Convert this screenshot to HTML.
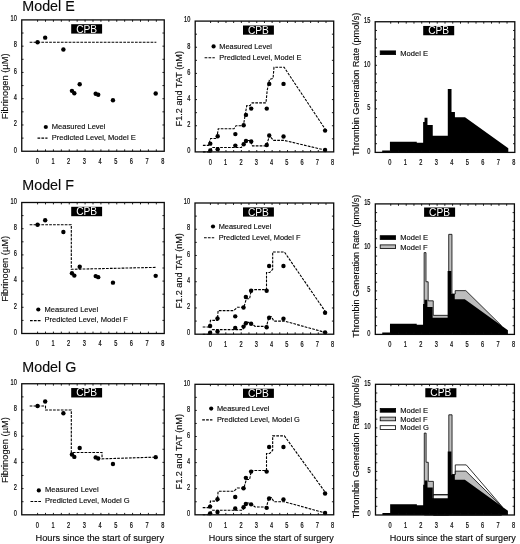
<!DOCTYPE html>
<html lang="en"><head><meta charset="utf-8"><title>Models E, F, G</title>
<style>html,body{margin:0;padding:0;background:#fff}svg{display:block;will-change:transform}</style></head>
<body>
<svg width="520" height="544" viewBox="0 0 520 544" font-family='"Liberation Sans", Arial, Helvetica, sans-serif'>
<text x="22.3" y="10.7" font-size="14.3" text-anchor="start" fill="#0a0a0a" stroke="#0a0a0a" stroke-width="0.14" >Model E</text>
<path d="M29.67 42.23L156.33 42.23" fill="none" stroke="#000" stroke-width="1.1" stroke-dasharray="2.7 1.2"/>
<circle cx="37.58" cy="42.23" r="2.2" fill="#000"/>
<circle cx="45.18" cy="37.63" r="2.2" fill="#000"/>
<circle cx="63.39" cy="49.45" r="2.2" fill="#000"/>
<circle cx="71.94" cy="90.83" r="2.2" fill="#000"/>
<circle cx="74.32" cy="93.19" r="2.2" fill="#000"/>
<circle cx="79.7" cy="84.26" r="2.2" fill="#000"/>
<circle cx="95.69" cy="93.72" r="2.2" fill="#000"/>
<circle cx="98.22" cy="94.77" r="2.2" fill="#000"/>
<circle cx="112.95" cy="100.29" r="2.2" fill="#000"/>
<circle cx="155.7" cy="93.46" r="2.2" fill="#000"/>
<rect x="21.75" y="19.9" width="142.5" height="131.35" fill="none" stroke="#0a0a0a" stroke-width="1.3"/>
<path d="M37.58 151.25v-1.9M37.58 19.9v1.9M45.5 151.25v-1.9M45.5 19.9v1.9M53.42 151.25v-1.9M53.42 19.9v1.9M61.33 151.25v-1.9M61.33 19.9v1.9M69.25 151.25v-1.9M69.25 19.9v1.9M77.17 151.25v-1.9M77.17 19.9v1.9M85.08 151.25v-1.9M85.08 19.9v1.9M93 151.25v-1.9M93 19.9v1.9M100.92 151.25v-1.9M100.92 19.9v1.9M108.83 151.25v-1.9M108.83 19.9v1.9M116.75 151.25v-1.9M116.75 19.9v1.9M124.67 151.25v-1.9M124.67 19.9v1.9M132.58 151.25v-1.9M132.58 19.9v1.9M140.5 151.25v-1.9M140.5 19.9v1.9M148.42 151.25v-1.9M148.42 19.9v1.9M156.33 151.25v-1.9M156.33 19.9v1.9M21.75 138.12h1.8M164.25 138.12h-1.8M21.75 124.98h1.8M164.25 124.98h-1.8M21.75 111.84h1.8M164.25 111.84h-1.8M21.75 98.71h1.8M164.25 98.71h-1.8M21.75 85.58h1.8M164.25 85.58h-1.8M21.75 72.44h1.8M164.25 72.44h-1.8M21.75 59.31h1.8M164.25 59.31h-1.8M21.75 46.17h1.8M164.25 46.17h-1.8M21.75 33.03h1.8M164.25 33.03h-1.8" stroke="#0a0a0a" stroke-width="0.9" fill="none"/>
<text transform="translate(37.3 164.15) scale(0.655 1)" text-anchor="middle" font-size="8.6" fill="#0a0a0a" stroke="#0a0a0a" stroke-width="0.25">0</text>
<text transform="translate(52.98 164.15) scale(0.655 1)" text-anchor="middle" font-size="8.6" fill="#0a0a0a" stroke="#0a0a0a" stroke-width="0.25">1</text>
<text transform="translate(68.66 164.15) scale(0.655 1)" text-anchor="middle" font-size="8.6" fill="#0a0a0a" stroke="#0a0a0a" stroke-width="0.25">2</text>
<text transform="translate(84.34 164.15) scale(0.655 1)" text-anchor="middle" font-size="8.6" fill="#0a0a0a" stroke="#0a0a0a" stroke-width="0.25">3</text>
<text transform="translate(100.02 164.15) scale(0.655 1)" text-anchor="middle" font-size="8.6" fill="#0a0a0a" stroke="#0a0a0a" stroke-width="0.25">4</text>
<text transform="translate(115.7 164.15) scale(0.655 1)" text-anchor="middle" font-size="8.6" fill="#0a0a0a" stroke="#0a0a0a" stroke-width="0.25">5</text>
<text transform="translate(131.38 164.15) scale(0.655 1)" text-anchor="middle" font-size="8.6" fill="#0a0a0a" stroke="#0a0a0a" stroke-width="0.25">6</text>
<text transform="translate(147.06 164.15) scale(0.655 1)" text-anchor="middle" font-size="8.6" fill="#0a0a0a" stroke="#0a0a0a" stroke-width="0.25">7</text>
<text transform="translate(162.74 164.15) scale(0.655 1)" text-anchor="middle" font-size="8.6" fill="#0a0a0a" stroke="#0a0a0a" stroke-width="0.25">8</text>
<text transform="translate(16.85 152.5) scale(0.655 1)" text-anchor="end" font-size="8.6" fill="#0a0a0a" stroke="#0a0a0a" stroke-width="0.25">0</text>
<text transform="translate(16.85 126.23) scale(0.655 1)" text-anchor="end" font-size="8.6" fill="#0a0a0a" stroke="#0a0a0a" stroke-width="0.25">2</text>
<text transform="translate(16.85 99.96) scale(0.655 1)" text-anchor="end" font-size="8.6" fill="#0a0a0a" stroke="#0a0a0a" stroke-width="0.25">4</text>
<text transform="translate(16.85 73.69) scale(0.655 1)" text-anchor="end" font-size="8.6" fill="#0a0a0a" stroke="#0a0a0a" stroke-width="0.25">6</text>
<text transform="translate(16.85 47.42) scale(0.655 1)" text-anchor="end" font-size="8.6" fill="#0a0a0a" stroke="#0a0a0a" stroke-width="0.25">8</text>
<text transform="translate(16.85 21.15) scale(0.655 1)" text-anchor="end" font-size="8.6" fill="#0a0a0a" stroke="#0a0a0a" stroke-width="0.25">10</text>
<text transform="translate(7.8 86.38) rotate(-90)" font-size="9.3" text-anchor="middle" fill="#0a0a0a" stroke="#0a0a0a" stroke-width="0.14">Fibrinogen (µM)</text>
<rect x="71.2" y="24.2" width="30.9" height="9.4" fill="#000"/>
<text x="86.65" y="32.6" font-size="10.2" text-anchor="middle" fill="#fff">CPB</text>
<circle cx="45.8" cy="127.0" r="2.1" fill="#000"/>
<text x="51.8" y="129" font-size="7.55" text-anchor="start" fill="#0a0a0a" stroke="#0a0a0a" stroke-width="0.14" >Measured Level</text>
<path d="M37.5 138.1H47.5" stroke="#000" stroke-width="1.1" stroke-dasharray="2.7 1.2"/>
<text x="51.8" y="139.9" font-size="7.55" text-anchor="start" fill="#0a0a0a" stroke="#0a0a0a" stroke-width="0.14" >Predicted Level, Model E</text>
<path d="M202.89 145.36L208.43 145.36L210.59 138.56L216.74 138.56L218.28 128.75L233.98 128.75L235.98 125.74L243.37 125.74L246.75 105.6L249.98 105.6L252.14 102.85L265.99 102.85L267.22 90.16L269.53 79.31L273.07 78.39L273.99 67.27L284.15 67.27L326.01 130.32" fill="none" stroke="#000" stroke-width="1.1" stroke-dasharray="2.7 1.2"/>
<path d="M202.89 151.9L209.05 151.9L212.44 147.45L241.37 147.45L245.98 140.52L250.29 140.52L252.45 145.88L266.3 145.88L269.53 135.68L273.38 140.39L284.15 140.39L326.01 150.33" fill="none" stroke="#000" stroke-width="1.1" stroke-dasharray="2.7 1.2"/>
<circle cx="210.28" cy="143.66" r="2.2" fill="#000"/>
<circle cx="217.67" cy="136.2" r="2.2" fill="#000"/>
<circle cx="235.36" cy="134.11" r="2.2" fill="#000"/>
<circle cx="243.67" cy="125.22" r="2.2" fill="#000"/>
<circle cx="245.98" cy="114.88" r="2.2" fill="#000"/>
<circle cx="251.22" cy="108.61" r="2.2" fill="#000"/>
<circle cx="266.76" cy="108.61" r="2.2" fill="#000"/>
<circle cx="269.22" cy="83.88" r="2.2" fill="#000"/>
<circle cx="283.53" cy="83.88" r="2.2" fill="#000"/>
<circle cx="325.08" cy="130.58" r="2.2" fill="#000"/>
<circle cx="210.28" cy="150.46" r="2.2" fill="#000"/>
<circle cx="217.67" cy="149.15" r="2.2" fill="#000"/>
<circle cx="235.36" cy="145.62" r="2.2" fill="#000"/>
<circle cx="243.67" cy="144.31" r="2.2" fill="#000"/>
<circle cx="245.98" cy="141.04" r="2.2" fill="#000"/>
<circle cx="251.22" cy="141.44" r="2.2" fill="#000"/>
<circle cx="266.76" cy="144.97" r="2.2" fill="#000"/>
<circle cx="269.22" cy="135.55" r="2.2" fill="#000"/>
<circle cx="283.53" cy="136.47" r="2.2" fill="#000"/>
<circle cx="325.08" cy="150.07" r="2.2" fill="#000"/>
<rect x="195.2" y="21.1" width="138.5" height="130.8" fill="none" stroke="#0a0a0a" stroke-width="1.3"/>
<path d="M210.59 151.9v-1.9M210.59 21.1v1.9M218.28 151.9v-1.9M218.28 21.1v1.9M225.98 151.9v-1.9M225.98 21.1v1.9M233.67 151.9v-1.9M233.67 21.1v1.9M241.37 151.9v-1.9M241.37 21.1v1.9M249.06 151.9v-1.9M249.06 21.1v1.9M256.76 151.9v-1.9M256.76 21.1v1.9M264.45 151.9v-1.9M264.45 21.1v1.9M272.14 151.9v-1.9M272.14 21.1v1.9M279.84 151.9v-1.9M279.84 21.1v1.9M287.53 151.9v-1.9M287.53 21.1v1.9M295.23 151.9v-1.9M295.23 21.1v1.9M302.92 151.9v-1.9M302.92 21.1v1.9M310.62 151.9v-1.9M310.62 21.1v1.9M318.31 151.9v-1.9M318.31 21.1v1.9M326.01 151.9v-1.9M326.01 21.1v1.9M195.2 138.82h1.8M333.7 138.82h-1.8M195.2 125.74h1.8M333.7 125.74h-1.8M195.2 112.66h1.8M333.7 112.66h-1.8M195.2 99.58h1.8M333.7 99.58h-1.8M195.2 86.5h1.8M333.7 86.5h-1.8M195.2 73.42h1.8M333.7 73.42h-1.8M195.2 60.34h1.8M333.7 60.34h-1.8M195.2 47.26h1.8M333.7 47.26h-1.8M195.2 34.18h1.8M333.7 34.18h-1.8" stroke="#0a0a0a" stroke-width="0.9" fill="none"/>
<text transform="translate(210.4 164.8) scale(0.655 1)" text-anchor="middle" font-size="8.6" fill="#0a0a0a" stroke="#0a0a0a" stroke-width="0.25">0</text>
<text transform="translate(225.67 164.8) scale(0.655 1)" text-anchor="middle" font-size="8.6" fill="#0a0a0a" stroke="#0a0a0a" stroke-width="0.25">1</text>
<text transform="translate(240.94 164.8) scale(0.655 1)" text-anchor="middle" font-size="8.6" fill="#0a0a0a" stroke="#0a0a0a" stroke-width="0.25">2</text>
<text transform="translate(256.21 164.8) scale(0.655 1)" text-anchor="middle" font-size="8.6" fill="#0a0a0a" stroke="#0a0a0a" stroke-width="0.25">3</text>
<text transform="translate(271.48 164.8) scale(0.655 1)" text-anchor="middle" font-size="8.6" fill="#0a0a0a" stroke="#0a0a0a" stroke-width="0.25">4</text>
<text transform="translate(286.75 164.8) scale(0.655 1)" text-anchor="middle" font-size="8.6" fill="#0a0a0a" stroke="#0a0a0a" stroke-width="0.25">5</text>
<text transform="translate(302.02 164.8) scale(0.655 1)" text-anchor="middle" font-size="8.6" fill="#0a0a0a" stroke="#0a0a0a" stroke-width="0.25">6</text>
<text transform="translate(317.29 164.8) scale(0.655 1)" text-anchor="middle" font-size="8.6" fill="#0a0a0a" stroke="#0a0a0a" stroke-width="0.25">7</text>
<text transform="translate(332.56 164.8) scale(0.655 1)" text-anchor="middle" font-size="8.6" fill="#0a0a0a" stroke="#0a0a0a" stroke-width="0.25">8</text>
<text transform="translate(190.3 153.15) scale(0.655 1)" text-anchor="end" font-size="8.6" fill="#0a0a0a" stroke="#0a0a0a" stroke-width="0.25">0</text>
<text transform="translate(190.3 126.99) scale(0.655 1)" text-anchor="end" font-size="8.6" fill="#0a0a0a" stroke="#0a0a0a" stroke-width="0.25">2</text>
<text transform="translate(190.3 100.83) scale(0.655 1)" text-anchor="end" font-size="8.6" fill="#0a0a0a" stroke="#0a0a0a" stroke-width="0.25">4</text>
<text transform="translate(190.3 74.67) scale(0.655 1)" text-anchor="end" font-size="8.6" fill="#0a0a0a" stroke="#0a0a0a" stroke-width="0.25">6</text>
<text transform="translate(190.3 48.51) scale(0.655 1)" text-anchor="end" font-size="8.6" fill="#0a0a0a" stroke="#0a0a0a" stroke-width="0.25">8</text>
<text transform="translate(190.3 22.35) scale(0.655 1)" text-anchor="end" font-size="8.6" fill="#0a0a0a" stroke="#0a0a0a" stroke-width="0.25">10</text>
<text transform="translate(181.6 88.7) rotate(-90)" font-size="9.15" text-anchor="middle" fill="#0a0a0a" stroke="#0a0a0a" stroke-width="0.14">F1.2 and TAT (nM)</text>
<rect x="243" y="25.5" width="30.9" height="9.2" fill="#000"/>
<text x="258.45" y="33.7" font-size="10.2" text-anchor="middle" fill="#fff">CPB</text>
<circle cx="213.6" cy="46.4" r="2.1" fill="#000"/>
<text x="219.3" y="48.6" font-size="7.4" text-anchor="start" fill="#0a0a0a" stroke="#0a0a0a" stroke-width="0.14" >Measured Level</text>
<path d="M204.6 57.7H214.79999999999998" stroke="#000" stroke-width="1.1" stroke-dasharray="2.7 1.2"/>
<text x="219.3" y="59.8" font-size="7.4" text-anchor="start" fill="#0a0a0a" stroke="#0a0a0a" stroke-width="0.14" >Predicted Level, Model E</text>
<path d="M382.18 152.4L382.18 150.48L389.94 150.48L389.94 141.77L416.77 141.77L416.77 142.64L423.13 142.64L423.13 122.09L424.53 122.09L424.53 117.82L427.47 117.82L427.47 124.96L432.75 124.96L432.75 135.76L447.79 135.76L447.79 88.9L451.51 88.9L451.51 111.99L454.93 111.99L454.93 117.21L465.01 117.21L508.29 148.22L508.29 152.4Z" fill="#000"/>
<rect x="375.2" y="21.75" width="139.6" height="130.65" fill="none" stroke="#0a0a0a" stroke-width="1.3"/>
<path d="M390.71 152.4v-1.9M390.71 21.75v1.9M398.47 152.4v-1.9M398.47 21.75v1.9M406.22 152.4v-1.9M406.22 21.75v1.9M413.98 152.4v-1.9M413.98 21.75v1.9M421.73 152.4v-1.9M421.73 21.75v1.9M429.49 152.4v-1.9M429.49 21.75v1.9M437.24 152.4v-1.9M437.24 21.75v1.9M445 152.4v-1.9M445 21.75v1.9M452.76 152.4v-1.9M452.76 21.75v1.9M460.51 152.4v-1.9M460.51 21.75v1.9M468.27 152.4v-1.9M468.27 21.75v1.9M476.02 152.4v-1.9M476.02 21.75v1.9M483.78 152.4v-1.9M483.78 21.75v1.9M491.53 152.4v-1.9M491.53 21.75v1.9M499.29 152.4v-1.9M499.29 21.75v1.9M507.04 152.4v-1.9M507.04 21.75v1.9M375.2 143.69h1.8M514.8 143.69h-1.8M375.2 134.98h1.8M514.8 134.98h-1.8M375.2 126.27h1.8M514.8 126.27h-1.8M375.2 117.56h1.8M514.8 117.56h-1.8M375.2 108.85h1.8M514.8 108.85h-1.8M375.2 100.14h1.8M514.8 100.14h-1.8M375.2 91.43h1.8M514.8 91.43h-1.8M375.2 82.72h1.8M514.8 82.72h-1.8M375.2 74.01h1.8M514.8 74.01h-1.8M375.2 65.3h1.8M514.8 65.3h-1.8M375.2 56.59h1.8M514.8 56.59h-1.8M375.2 47.88h1.8M514.8 47.88h-1.8M375.2 39.17h1.8M514.8 39.17h-1.8M375.2 30.46h1.8M514.8 30.46h-1.8" stroke="#0a0a0a" stroke-width="0.9" fill="none"/>
<text transform="translate(389.81 165.3) scale(0.655 1)" text-anchor="middle" font-size="8.6" fill="#0a0a0a" stroke="#0a0a0a" stroke-width="0.25">0</text>
<text transform="translate(405.32 165.3) scale(0.655 1)" text-anchor="middle" font-size="8.6" fill="#0a0a0a" stroke="#0a0a0a" stroke-width="0.25">1</text>
<text transform="translate(420.83 165.3) scale(0.655 1)" text-anchor="middle" font-size="8.6" fill="#0a0a0a" stroke="#0a0a0a" stroke-width="0.25">2</text>
<text transform="translate(436.34 165.3) scale(0.655 1)" text-anchor="middle" font-size="8.6" fill="#0a0a0a" stroke="#0a0a0a" stroke-width="0.25">3</text>
<text transform="translate(451.86 165.3) scale(0.655 1)" text-anchor="middle" font-size="8.6" fill="#0a0a0a" stroke="#0a0a0a" stroke-width="0.25">4</text>
<text transform="translate(467.37 165.3) scale(0.655 1)" text-anchor="middle" font-size="8.6" fill="#0a0a0a" stroke="#0a0a0a" stroke-width="0.25">5</text>
<text transform="translate(482.88 165.3) scale(0.655 1)" text-anchor="middle" font-size="8.6" fill="#0a0a0a" stroke="#0a0a0a" stroke-width="0.25">6</text>
<text transform="translate(498.39 165.3) scale(0.655 1)" text-anchor="middle" font-size="8.6" fill="#0a0a0a" stroke="#0a0a0a" stroke-width="0.25">7</text>
<text transform="translate(513.9 165.3) scale(0.655 1)" text-anchor="middle" font-size="8.6" fill="#0a0a0a" stroke="#0a0a0a" stroke-width="0.25">8</text>
<text transform="translate(370.3 153.65) scale(0.655 1)" text-anchor="end" font-size="8.6" fill="#0a0a0a" stroke="#0a0a0a" stroke-width="0.25">0</text>
<text transform="translate(370.3 110.1) scale(0.655 1)" text-anchor="end" font-size="8.6" fill="#0a0a0a" stroke="#0a0a0a" stroke-width="0.25">5</text>
<text transform="translate(370.3 66.55) scale(0.655 1)" text-anchor="end" font-size="8.6" fill="#0a0a0a" stroke="#0a0a0a" stroke-width="0.25">10</text>
<text transform="translate(370.3 23) scale(0.655 1)" text-anchor="end" font-size="8.6" fill="#0a0a0a" stroke="#0a0a0a" stroke-width="0.25">15</text>
<text transform="translate(359 84.17) rotate(-90)" font-size="9.1" text-anchor="middle" fill="#0a0a0a" stroke="#0a0a0a" stroke-width="0.14">Thrombin Generation Rate (pmol/s)</text>
<rect x="423.2" y="25.95" width="31" height="9.3" fill="#000"/>
<text x="438.7" y="34.25" font-size="10.2" text-anchor="middle" fill="#fff">CPB</text>
<rect x="380.2" y="50.9" width="15.4" height="3.7" fill="#000" stroke="#000" stroke-width="0.8"/>
<text x="400.3" y="55.5" font-size="7.55" text-anchor="start" fill="#0a0a0a" stroke="#0a0a0a" stroke-width="0.14" >Model E</text>
<text x="22.3" y="190.4" font-size="14.3" text-anchor="start" fill="#0a0a0a" stroke="#0a0a0a" stroke-width="0.14" >Model F</text>
<path d="M29.67 224.77L71.31 224.77L71.31 269.31L156.33 267.35" fill="none" stroke="#000" stroke-width="1.1" stroke-dasharray="2.7 1.2"/>
<circle cx="37.58" cy="224.77" r="2.2" fill="#000"/>
<circle cx="45.18" cy="220.19" r="2.2" fill="#000"/>
<circle cx="63.39" cy="231.97" r="2.2" fill="#000"/>
<circle cx="71.94" cy="273.24" r="2.2" fill="#000"/>
<circle cx="74.32" cy="275.6" r="2.2" fill="#000"/>
<circle cx="79.7" cy="266.69" r="2.2" fill="#000"/>
<circle cx="95.69" cy="276.12" r="2.2" fill="#000"/>
<circle cx="98.22" cy="277.17" r="2.2" fill="#000"/>
<circle cx="112.95" cy="282.67" r="2.2" fill="#000"/>
<circle cx="155.7" cy="275.86" r="2.2" fill="#000"/>
<rect x="21.75" y="202.5" width="142.5" height="131" fill="none" stroke="#0a0a0a" stroke-width="1.3"/>
<path d="M37.58 333.5v-1.9M37.58 202.5v1.9M45.5 333.5v-1.9M45.5 202.5v1.9M53.42 333.5v-1.9M53.42 202.5v1.9M61.33 333.5v-1.9M61.33 202.5v1.9M69.25 333.5v-1.9M69.25 202.5v1.9M77.17 333.5v-1.9M77.17 202.5v1.9M85.08 333.5v-1.9M85.08 202.5v1.9M93 333.5v-1.9M93 202.5v1.9M100.92 333.5v-1.9M100.92 202.5v1.9M108.83 333.5v-1.9M108.83 202.5v1.9M116.75 333.5v-1.9M116.75 202.5v1.9M124.67 333.5v-1.9M124.67 202.5v1.9M132.58 333.5v-1.9M132.58 202.5v1.9M140.5 333.5v-1.9M140.5 202.5v1.9M148.42 333.5v-1.9M148.42 202.5v1.9M156.33 333.5v-1.9M156.33 202.5v1.9M21.75 320.4h1.8M164.25 320.4h-1.8M21.75 307.3h1.8M164.25 307.3h-1.8M21.75 294.2h1.8M164.25 294.2h-1.8M21.75 281.1h1.8M164.25 281.1h-1.8M21.75 268h1.8M164.25 268h-1.8M21.75 254.9h1.8M164.25 254.9h-1.8M21.75 241.8h1.8M164.25 241.8h-1.8M21.75 228.7h1.8M164.25 228.7h-1.8M21.75 215.6h1.8M164.25 215.6h-1.8" stroke="#0a0a0a" stroke-width="0.9" fill="none"/>
<text transform="translate(37.3 346.4) scale(0.655 1)" text-anchor="middle" font-size="8.6" fill="#0a0a0a" stroke="#0a0a0a" stroke-width="0.25">0</text>
<text transform="translate(52.98 346.4) scale(0.655 1)" text-anchor="middle" font-size="8.6" fill="#0a0a0a" stroke="#0a0a0a" stroke-width="0.25">1</text>
<text transform="translate(68.66 346.4) scale(0.655 1)" text-anchor="middle" font-size="8.6" fill="#0a0a0a" stroke="#0a0a0a" stroke-width="0.25">2</text>
<text transform="translate(84.34 346.4) scale(0.655 1)" text-anchor="middle" font-size="8.6" fill="#0a0a0a" stroke="#0a0a0a" stroke-width="0.25">3</text>
<text transform="translate(100.02 346.4) scale(0.655 1)" text-anchor="middle" font-size="8.6" fill="#0a0a0a" stroke="#0a0a0a" stroke-width="0.25">4</text>
<text transform="translate(115.7 346.4) scale(0.655 1)" text-anchor="middle" font-size="8.6" fill="#0a0a0a" stroke="#0a0a0a" stroke-width="0.25">5</text>
<text transform="translate(131.38 346.4) scale(0.655 1)" text-anchor="middle" font-size="8.6" fill="#0a0a0a" stroke="#0a0a0a" stroke-width="0.25">6</text>
<text transform="translate(147.06 346.4) scale(0.655 1)" text-anchor="middle" font-size="8.6" fill="#0a0a0a" stroke="#0a0a0a" stroke-width="0.25">7</text>
<text transform="translate(162.74 346.4) scale(0.655 1)" text-anchor="middle" font-size="8.6" fill="#0a0a0a" stroke="#0a0a0a" stroke-width="0.25">8</text>
<text transform="translate(16.85 334.75) scale(0.655 1)" text-anchor="end" font-size="8.6" fill="#0a0a0a" stroke="#0a0a0a" stroke-width="0.25">0</text>
<text transform="translate(16.85 308.55) scale(0.655 1)" text-anchor="end" font-size="8.6" fill="#0a0a0a" stroke="#0a0a0a" stroke-width="0.25">2</text>
<text transform="translate(16.85 282.35) scale(0.655 1)" text-anchor="end" font-size="8.6" fill="#0a0a0a" stroke="#0a0a0a" stroke-width="0.25">4</text>
<text transform="translate(16.85 256.15) scale(0.655 1)" text-anchor="end" font-size="8.6" fill="#0a0a0a" stroke="#0a0a0a" stroke-width="0.25">6</text>
<text transform="translate(16.85 229.95) scale(0.655 1)" text-anchor="end" font-size="8.6" fill="#0a0a0a" stroke="#0a0a0a" stroke-width="0.25">8</text>
<text transform="translate(16.85 203.75) scale(0.655 1)" text-anchor="end" font-size="8.6" fill="#0a0a0a" stroke="#0a0a0a" stroke-width="0.25">10</text>
<text transform="translate(7.8 268.8) rotate(-90)" font-size="9.3" text-anchor="middle" fill="#0a0a0a" stroke="#0a0a0a" stroke-width="0.14">Fibrinogen (µM)</text>
<rect x="71.2" y="206.8" width="30.9" height="9.4" fill="#000"/>
<text x="86.65" y="215.2" font-size="10.2" text-anchor="middle" fill="#fff">CPB</text>
<circle cx="38.3" cy="309.5" r="2.1" fill="#000"/>
<text x="44.5" y="311.5" font-size="7.55" text-anchor="start" fill="#0a0a0a" stroke="#0a0a0a" stroke-width="0.14" >Measured Level</text>
<path d="M30 320.6H40.5" stroke="#000" stroke-width="1.1" stroke-dasharray="2.7 1.2"/>
<text x="44.5" y="322.4" font-size="7.55" text-anchor="start" fill="#0a0a0a" stroke="#0a0a0a" stroke-width="0.14" >Predicted Level, Model F</text>
<path d="M202.71 326.98L209.79 326.98L210.41 320.42L217.35 320.42L218.12 310.58L233.84 310.58L237.23 307.3L243.85 307.3L246.32 298.78L249.56 298.78L251.4 289.59L266.51 289.59L266.51 272.54L269.74 272.54L272.67 269.26L272.67 251.94L284.38 251.94L325.99 312.55" fill="none" stroke="#000" stroke-width="1.1" stroke-dasharray="2.7 1.2"/>
<path d="M202.71 334.2L208.87 334.2L212.26 329.61L242.77 329.61L246.32 322.39L250.17 322.39L255.1 326.33L266.51 326.33L268.97 316.75L271.44 316.75L273.9 321.08L284.38 321.08L325.99 332.63" fill="none" stroke="#000" stroke-width="1.1" stroke-dasharray="2.7 1.2"/>
<circle cx="210.1" cy="325.93" r="2.2" fill="#000"/>
<circle cx="217.5" cy="318.46" r="2.2" fill="#000"/>
<circle cx="235.22" cy="316.36" r="2.2" fill="#000"/>
<circle cx="243.54" cy="307.44" r="2.2" fill="#000"/>
<circle cx="245.86" cy="297.07" r="2.2" fill="#000"/>
<circle cx="251.1" cy="290.77" r="2.2" fill="#000"/>
<circle cx="266.66" cy="290.77" r="2.2" fill="#000"/>
<circle cx="269.13" cy="265.98" r="2.2" fill="#000"/>
<circle cx="283.46" cy="265.98" r="2.2" fill="#000"/>
<circle cx="325.07" cy="312.81" r="2.2" fill="#000"/>
<circle cx="210.1" cy="332.76" r="2.2" fill="#000"/>
<circle cx="217.5" cy="331.44" r="2.2" fill="#000"/>
<circle cx="235.22" cy="327.9" r="2.2" fill="#000"/>
<circle cx="243.54" cy="326.59" r="2.2" fill="#000"/>
<circle cx="245.86" cy="323.31" r="2.2" fill="#000"/>
<circle cx="251.1" cy="323.7" r="2.2" fill="#000"/>
<circle cx="266.66" cy="327.25" r="2.2" fill="#000"/>
<circle cx="269.13" cy="317.8" r="2.2" fill="#000"/>
<circle cx="283.46" cy="318.72" r="2.2" fill="#000"/>
<circle cx="325.07" cy="332.36" r="2.2" fill="#000"/>
<rect x="195" y="203" width="138.7" height="131.2" fill="none" stroke="#0a0a0a" stroke-width="1.3"/>
<path d="M210.41 334.2v-1.9M210.41 203v1.9M218.12 334.2v-1.9M218.12 203v1.9M225.82 334.2v-1.9M225.82 203v1.9M233.53 334.2v-1.9M233.53 203v1.9M241.23 334.2v-1.9M241.23 203v1.9M248.94 334.2v-1.9M248.94 203v1.9M256.64 334.2v-1.9M256.64 203v1.9M264.35 334.2v-1.9M264.35 203v1.9M272.06 334.2v-1.9M272.06 203v1.9M279.76 334.2v-1.9M279.76 203v1.9M287.47 334.2v-1.9M287.47 203v1.9M295.17 334.2v-1.9M295.17 203v1.9M302.88 334.2v-1.9M302.88 203v1.9M310.58 334.2v-1.9M310.58 203v1.9M318.29 334.2v-1.9M318.29 203v1.9M325.99 334.2v-1.9M325.99 203v1.9M195 321.08h1.8M333.7 321.08h-1.8M195 307.96h1.8M333.7 307.96h-1.8M195 294.84h1.8M333.7 294.84h-1.8M195 281.72h1.8M333.7 281.72h-1.8M195 268.6h1.8M333.7 268.6h-1.8M195 255.48h1.8M333.7 255.48h-1.8M195 242.36h1.8M333.7 242.36h-1.8M195 229.24h1.8M333.7 229.24h-1.8M195 216.12h1.8M333.7 216.12h-1.8" stroke="#0a0a0a" stroke-width="0.9" fill="none"/>
<text transform="translate(210.4 347.1) scale(0.655 1)" text-anchor="middle" font-size="8.6" fill="#0a0a0a" stroke="#0a0a0a" stroke-width="0.25">0</text>
<text transform="translate(225.67 347.1) scale(0.655 1)" text-anchor="middle" font-size="8.6" fill="#0a0a0a" stroke="#0a0a0a" stroke-width="0.25">1</text>
<text transform="translate(240.94 347.1) scale(0.655 1)" text-anchor="middle" font-size="8.6" fill="#0a0a0a" stroke="#0a0a0a" stroke-width="0.25">2</text>
<text transform="translate(256.21 347.1) scale(0.655 1)" text-anchor="middle" font-size="8.6" fill="#0a0a0a" stroke="#0a0a0a" stroke-width="0.25">3</text>
<text transform="translate(271.48 347.1) scale(0.655 1)" text-anchor="middle" font-size="8.6" fill="#0a0a0a" stroke="#0a0a0a" stroke-width="0.25">4</text>
<text transform="translate(286.75 347.1) scale(0.655 1)" text-anchor="middle" font-size="8.6" fill="#0a0a0a" stroke="#0a0a0a" stroke-width="0.25">5</text>
<text transform="translate(302.02 347.1) scale(0.655 1)" text-anchor="middle" font-size="8.6" fill="#0a0a0a" stroke="#0a0a0a" stroke-width="0.25">6</text>
<text transform="translate(317.29 347.1) scale(0.655 1)" text-anchor="middle" font-size="8.6" fill="#0a0a0a" stroke="#0a0a0a" stroke-width="0.25">7</text>
<text transform="translate(332.56 347.1) scale(0.655 1)" text-anchor="middle" font-size="8.6" fill="#0a0a0a" stroke="#0a0a0a" stroke-width="0.25">8</text>
<text transform="translate(190.1 335.45) scale(0.655 1)" text-anchor="end" font-size="8.6" fill="#0a0a0a" stroke="#0a0a0a" stroke-width="0.25">0</text>
<text transform="translate(190.1 309.21) scale(0.655 1)" text-anchor="end" font-size="8.6" fill="#0a0a0a" stroke="#0a0a0a" stroke-width="0.25">2</text>
<text transform="translate(190.1 282.97) scale(0.655 1)" text-anchor="end" font-size="8.6" fill="#0a0a0a" stroke="#0a0a0a" stroke-width="0.25">4</text>
<text transform="translate(190.1 256.73) scale(0.655 1)" text-anchor="end" font-size="8.6" fill="#0a0a0a" stroke="#0a0a0a" stroke-width="0.25">6</text>
<text transform="translate(190.1 230.49) scale(0.655 1)" text-anchor="end" font-size="8.6" fill="#0a0a0a" stroke="#0a0a0a" stroke-width="0.25">8</text>
<text transform="translate(190.1 204.25) scale(0.655 1)" text-anchor="end" font-size="8.6" fill="#0a0a0a" stroke="#0a0a0a" stroke-width="0.25">10</text>
<text transform="translate(181.6 270.8) rotate(-90)" font-size="9.15" text-anchor="middle" fill="#0a0a0a" stroke="#0a0a0a" stroke-width="0.14">F1.2 and TAT (nM)</text>
<rect x="243" y="207.4" width="30.9" height="9.2" fill="#000"/>
<text x="258.45" y="215.6" font-size="10.2" text-anchor="middle" fill="#fff">CPB</text>
<circle cx="213.0" cy="226.5" r="2.1" fill="#000"/>
<text x="218.7" y="228.7" font-size="7.4" text-anchor="start" fill="#0a0a0a" stroke="#0a0a0a" stroke-width="0.14" >Measured Level</text>
<path d="M204.0 237.8H214.2" stroke="#000" stroke-width="1.1" stroke-dasharray="2.7 1.2"/>
<text x="218.7" y="239.9" font-size="7.4" text-anchor="start" fill="#0a0a0a" stroke="#0a0a0a" stroke-width="0.14" >Predicted Level, Model F</text>
<path d="M424.14 334.4L424.14 252.62L425.99 252.62L425.99 281.76L428.16 281.76L428.16 300.82L433.26 300.82L433.26 315.35L448.71 315.35L448.71 234.35L451.96 234.35L451.96 294.03L455.21 294.03L455.21 290.64L465.87 290.64L501.26 325.44L501.26 334.4Z" fill="#bdbdbd" stroke="#000" stroke-width="0.8"/>
<path d="M382.25 334.4L382.25 332.49L389.98 332.49L389.98 323.79L416.72 323.79L416.72 324.66L423.06 324.66L423.06 304.12L424.45 304.12L424.45 299.86L427.39 299.86L427.39 307L432.64 307L432.64 317.78L447.63 317.78L447.63 270.98L451.34 270.98L451.34 294.03L454.74 294.03L454.74 299.25L464.79 299.25L507.91 330.22L507.91 334.4Z" fill="#000"/>
<rect x="375.3" y="203.9" width="139.1" height="130.5" fill="none" stroke="#0a0a0a" stroke-width="1.3"/>
<path d="M390.76 334.4v-1.9M390.76 203.9v1.9M398.48 334.4v-1.9M398.48 203.9v1.9M406.21 334.4v-1.9M406.21 203.9v1.9M413.94 334.4v-1.9M413.94 203.9v1.9M421.67 334.4v-1.9M421.67 203.9v1.9M429.39 334.4v-1.9M429.39 203.9v1.9M437.12 334.4v-1.9M437.12 203.9v1.9M444.85 334.4v-1.9M444.85 203.9v1.9M452.58 334.4v-1.9M452.58 203.9v1.9M460.31 334.4v-1.9M460.31 203.9v1.9M468.03 334.4v-1.9M468.03 203.9v1.9M475.76 334.4v-1.9M475.76 203.9v1.9M483.49 334.4v-1.9M483.49 203.9v1.9M491.22 334.4v-1.9M491.22 203.9v1.9M498.94 334.4v-1.9M498.94 203.9v1.9M506.67 334.4v-1.9M506.67 203.9v1.9M375.3 325.7h1.8M514.4 325.7h-1.8M375.3 317h1.8M514.4 317h-1.8M375.3 308.3h1.8M514.4 308.3h-1.8M375.3 299.6h1.8M514.4 299.6h-1.8M375.3 290.9h1.8M514.4 290.9h-1.8M375.3 282.2h1.8M514.4 282.2h-1.8M375.3 273.5h1.8M514.4 273.5h-1.8M375.3 264.8h1.8M514.4 264.8h-1.8M375.3 256.1h1.8M514.4 256.1h-1.8M375.3 247.4h1.8M514.4 247.4h-1.8M375.3 238.7h1.8M514.4 238.7h-1.8M375.3 230h1.8M514.4 230h-1.8M375.3 221.3h1.8M514.4 221.3h-1.8M375.3 212.6h1.8M514.4 212.6h-1.8" stroke="#0a0a0a" stroke-width="0.9" fill="none"/>
<text transform="translate(389.86 347.3) scale(0.655 1)" text-anchor="middle" font-size="8.6" fill="#0a0a0a" stroke="#0a0a0a" stroke-width="0.25">0</text>
<text transform="translate(405.31 347.3) scale(0.655 1)" text-anchor="middle" font-size="8.6" fill="#0a0a0a" stroke="#0a0a0a" stroke-width="0.25">1</text>
<text transform="translate(420.77 347.3) scale(0.655 1)" text-anchor="middle" font-size="8.6" fill="#0a0a0a" stroke="#0a0a0a" stroke-width="0.25">2</text>
<text transform="translate(436.22 347.3) scale(0.655 1)" text-anchor="middle" font-size="8.6" fill="#0a0a0a" stroke="#0a0a0a" stroke-width="0.25">3</text>
<text transform="translate(451.68 347.3) scale(0.655 1)" text-anchor="middle" font-size="8.6" fill="#0a0a0a" stroke="#0a0a0a" stroke-width="0.25">4</text>
<text transform="translate(467.13 347.3) scale(0.655 1)" text-anchor="middle" font-size="8.6" fill="#0a0a0a" stroke="#0a0a0a" stroke-width="0.25">5</text>
<text transform="translate(482.59 347.3) scale(0.655 1)" text-anchor="middle" font-size="8.6" fill="#0a0a0a" stroke="#0a0a0a" stroke-width="0.25">6</text>
<text transform="translate(498.04 347.3) scale(0.655 1)" text-anchor="middle" font-size="8.6" fill="#0a0a0a" stroke="#0a0a0a" stroke-width="0.25">7</text>
<text transform="translate(513.5 347.3) scale(0.655 1)" text-anchor="middle" font-size="8.6" fill="#0a0a0a" stroke="#0a0a0a" stroke-width="0.25">8</text>
<text transform="translate(370.4 335.65) scale(0.655 1)" text-anchor="end" font-size="8.6" fill="#0a0a0a" stroke="#0a0a0a" stroke-width="0.25">0</text>
<text transform="translate(370.4 292.15) scale(0.655 1)" text-anchor="end" font-size="8.6" fill="#0a0a0a" stroke="#0a0a0a" stroke-width="0.25">5</text>
<text transform="translate(370.4 248.65) scale(0.655 1)" text-anchor="end" font-size="8.6" fill="#0a0a0a" stroke="#0a0a0a" stroke-width="0.25">10</text>
<text transform="translate(370.4 205.15) scale(0.655 1)" text-anchor="end" font-size="8.6" fill="#0a0a0a" stroke="#0a0a0a" stroke-width="0.25">15</text>
<text transform="translate(359 266.25) rotate(-90)" font-size="9.1" text-anchor="middle" fill="#0a0a0a" stroke="#0a0a0a" stroke-width="0.14">Thrombin Generation Rate (pmol/s)</text>
<rect x="424.1" y="207.5" width="31" height="9.3" fill="#000"/>
<text x="439.6" y="215.8" font-size="10.2" text-anchor="middle" fill="#fff">CPB</text>
<rect x="380.2" y="235.7" width="15.4" height="3.7" fill="#000" stroke="#000" stroke-width="0.8"/>
<text x="400.3" y="240.3" font-size="7.55" text-anchor="start" fill="#0a0a0a" stroke="#0a0a0a" stroke-width="0.14" >Model E</text>
<rect x="380.2" y="244.9" width="15.4" height="3.7" fill="#bdbdbd" stroke="#000" stroke-width="0.8"/>
<text x="400.3" y="249.5" font-size="7.55" text-anchor="start" fill="#0a0a0a" stroke="#0a0a0a" stroke-width="0.14" >Model F</text>
<text x="22.3" y="372.3" font-size="14.3" text-anchor="start" fill="#0a0a0a" stroke="#0a0a0a" stroke-width="0.14" >Model G</text>
<path d="M29.67 406.03L45.5 406.03L45.5 409.96L71.31 409.96L71.31 452.55L102.03 452.55L102.03 458.84L156.33 457.14" fill="none" stroke="#000" stroke-width="1.1" stroke-dasharray="2.7 1.2"/>
<circle cx="37.58" cy="406.03" r="2.2" fill="#000"/>
<circle cx="45.18" cy="401.44" r="2.2" fill="#000"/>
<circle cx="63.39" cy="413.24" r="2.2" fill="#000"/>
<circle cx="71.94" cy="454.52" r="2.2" fill="#000"/>
<circle cx="74.32" cy="456.88" r="2.2" fill="#000"/>
<circle cx="79.7" cy="447.96" r="2.2" fill="#000"/>
<circle cx="95.69" cy="457.4" r="2.2" fill="#000"/>
<circle cx="98.22" cy="458.45" r="2.2" fill="#000"/>
<circle cx="112.95" cy="463.95" r="2.2" fill="#000"/>
<circle cx="155.7" cy="457.14" r="2.2" fill="#000"/>
<rect x="21.75" y="383.75" width="142.5" height="131.05" fill="none" stroke="#0a0a0a" stroke-width="1.3"/>
<path d="M37.58 514.8v-1.9M37.58 383.75v1.9M45.5 514.8v-1.9M45.5 383.75v1.9M53.42 514.8v-1.9M53.42 383.75v1.9M61.33 514.8v-1.9M61.33 383.75v1.9M69.25 514.8v-1.9M69.25 383.75v1.9M77.17 514.8v-1.9M77.17 383.75v1.9M85.08 514.8v-1.9M85.08 383.75v1.9M93 514.8v-1.9M93 383.75v1.9M100.92 514.8v-1.9M100.92 383.75v1.9M108.83 514.8v-1.9M108.83 383.75v1.9M116.75 514.8v-1.9M116.75 383.75v1.9M124.67 514.8v-1.9M124.67 383.75v1.9M132.58 514.8v-1.9M132.58 383.75v1.9M140.5 514.8v-1.9M140.5 383.75v1.9M148.42 514.8v-1.9M148.42 383.75v1.9M156.33 514.8v-1.9M156.33 383.75v1.9M21.75 501.69h1.8M164.25 501.69h-1.8M21.75 488.59h1.8M164.25 488.59h-1.8M21.75 475.48h1.8M164.25 475.48h-1.8M21.75 462.38h1.8M164.25 462.38h-1.8M21.75 449.27h1.8M164.25 449.27h-1.8M21.75 436.17h1.8M164.25 436.17h-1.8M21.75 423.06h1.8M164.25 423.06h-1.8M21.75 409.96h1.8M164.25 409.96h-1.8M21.75 396.86h1.8M164.25 396.86h-1.8" stroke="#0a0a0a" stroke-width="0.9" fill="none"/>
<text transform="translate(37.3 527.7) scale(0.655 1)" text-anchor="middle" font-size="8.6" fill="#0a0a0a" stroke="#0a0a0a" stroke-width="0.25">0</text>
<text transform="translate(52.98 527.7) scale(0.655 1)" text-anchor="middle" font-size="8.6" fill="#0a0a0a" stroke="#0a0a0a" stroke-width="0.25">1</text>
<text transform="translate(68.66 527.7) scale(0.655 1)" text-anchor="middle" font-size="8.6" fill="#0a0a0a" stroke="#0a0a0a" stroke-width="0.25">2</text>
<text transform="translate(84.34 527.7) scale(0.655 1)" text-anchor="middle" font-size="8.6" fill="#0a0a0a" stroke="#0a0a0a" stroke-width="0.25">3</text>
<text transform="translate(100.02 527.7) scale(0.655 1)" text-anchor="middle" font-size="8.6" fill="#0a0a0a" stroke="#0a0a0a" stroke-width="0.25">4</text>
<text transform="translate(115.7 527.7) scale(0.655 1)" text-anchor="middle" font-size="8.6" fill="#0a0a0a" stroke="#0a0a0a" stroke-width="0.25">5</text>
<text transform="translate(131.38 527.7) scale(0.655 1)" text-anchor="middle" font-size="8.6" fill="#0a0a0a" stroke="#0a0a0a" stroke-width="0.25">6</text>
<text transform="translate(147.06 527.7) scale(0.655 1)" text-anchor="middle" font-size="8.6" fill="#0a0a0a" stroke="#0a0a0a" stroke-width="0.25">7</text>
<text transform="translate(162.74 527.7) scale(0.655 1)" text-anchor="middle" font-size="8.6" fill="#0a0a0a" stroke="#0a0a0a" stroke-width="0.25">8</text>
<text transform="translate(16.85 516.05) scale(0.655 1)" text-anchor="end" font-size="8.6" fill="#0a0a0a" stroke="#0a0a0a" stroke-width="0.25">0</text>
<text transform="translate(16.85 489.84) scale(0.655 1)" text-anchor="end" font-size="8.6" fill="#0a0a0a" stroke="#0a0a0a" stroke-width="0.25">2</text>
<text transform="translate(16.85 463.63) scale(0.655 1)" text-anchor="end" font-size="8.6" fill="#0a0a0a" stroke="#0a0a0a" stroke-width="0.25">4</text>
<text transform="translate(16.85 437.42) scale(0.655 1)" text-anchor="end" font-size="8.6" fill="#0a0a0a" stroke="#0a0a0a" stroke-width="0.25">6</text>
<text transform="translate(16.85 411.21) scale(0.655 1)" text-anchor="end" font-size="8.6" fill="#0a0a0a" stroke="#0a0a0a" stroke-width="0.25">8</text>
<text transform="translate(16.85 385) scale(0.655 1)" text-anchor="end" font-size="8.6" fill="#0a0a0a" stroke="#0a0a0a" stroke-width="0.25">10</text>
<text transform="translate(7.8 450.07) rotate(-90)" font-size="9.3" text-anchor="middle" fill="#0a0a0a" stroke="#0a0a0a" stroke-width="0.14">Fibrinogen (µM)</text>
<rect x="71.2" y="388.05" width="30.9" height="9.4" fill="#000"/>
<text x="86.65" y="396.45" font-size="10.2" text-anchor="middle" fill="#fff">CPB</text>
<circle cx="38.8" cy="490.4" r="2.1" fill="#000"/>
<text x="45" y="492.4" font-size="7.55" text-anchor="start" fill="#0a0a0a" stroke="#0a0a0a" stroke-width="0.14" >Measured Level</text>
<path d="M30.5 501.5H41.3" stroke="#000" stroke-width="1.1" stroke-dasharray="2.7 1.2"/>
<text x="45" y="503.3" font-size="7.55" text-anchor="start" fill="#0a0a0a" stroke="#0a0a0a" stroke-width="0.14" >Predicted Level, Model G</text>
<path d="M202.71 507.62L209.79 507.62L210.41 501.1L217.35 501.1L218.12 491.31L233.84 491.31L237.23 488.05L243.85 488.05L246.32 479.56L249.56 479.56L251.4 470.43L266.51 470.43L266.51 453.46L269.74 453.46L272.67 450.2L272.67 435.85L284.38 435.85L325.99 493.27" fill="none" stroke="#000" stroke-width="1.1" stroke-dasharray="2.7 1.2"/>
<path d="M202.71 514.8L208.87 514.8L212.26 510.23L242.77 510.23L246.32 503.05L250.17 503.05L255.1 506.97L266.51 506.97L268.97 497.44L271.44 497.44L273.9 501.75L284.38 501.75L325.99 513.23" fill="none" stroke="#000" stroke-width="1.1" stroke-dasharray="2.7 1.2"/>
<circle cx="210.1" cy="506.58" r="2.2" fill="#000"/>
<circle cx="217.5" cy="499.14" r="2.2" fill="#000"/>
<circle cx="235.22" cy="497.05" r="2.2" fill="#000"/>
<circle cx="243.54" cy="488.18" r="2.2" fill="#000"/>
<circle cx="245.86" cy="477.87" r="2.2" fill="#000"/>
<circle cx="251.1" cy="471.6" r="2.2" fill="#000"/>
<circle cx="266.66" cy="471.6" r="2.2" fill="#000"/>
<circle cx="269.13" cy="446.94" r="2.2" fill="#000"/>
<circle cx="283.46" cy="446.94" r="2.2" fill="#000"/>
<circle cx="325.07" cy="493.53" r="2.2" fill="#000"/>
<circle cx="210.1" cy="513.36" r="2.2" fill="#000"/>
<circle cx="217.5" cy="512.06" r="2.2" fill="#000"/>
<circle cx="235.22" cy="508.54" r="2.2" fill="#000"/>
<circle cx="243.54" cy="507.23" r="2.2" fill="#000"/>
<circle cx="245.86" cy="503.97" r="2.2" fill="#000"/>
<circle cx="251.1" cy="504.36" r="2.2" fill="#000"/>
<circle cx="266.66" cy="507.88" r="2.2" fill="#000"/>
<circle cx="269.13" cy="498.49" r="2.2" fill="#000"/>
<circle cx="283.46" cy="499.4" r="2.2" fill="#000"/>
<circle cx="325.07" cy="512.97" r="2.2" fill="#000"/>
<rect x="195" y="384.3" width="138.7" height="130.5" fill="none" stroke="#0a0a0a" stroke-width="1.3"/>
<path d="M210.41 514.8v-1.9M210.41 384.3v1.9M218.12 514.8v-1.9M218.12 384.3v1.9M225.82 514.8v-1.9M225.82 384.3v1.9M233.53 514.8v-1.9M233.53 384.3v1.9M241.23 514.8v-1.9M241.23 384.3v1.9M248.94 514.8v-1.9M248.94 384.3v1.9M256.64 514.8v-1.9M256.64 384.3v1.9M264.35 514.8v-1.9M264.35 384.3v1.9M272.06 514.8v-1.9M272.06 384.3v1.9M279.76 514.8v-1.9M279.76 384.3v1.9M287.47 514.8v-1.9M287.47 384.3v1.9M295.17 514.8v-1.9M295.17 384.3v1.9M302.88 514.8v-1.9M302.88 384.3v1.9M310.58 514.8v-1.9M310.58 384.3v1.9M318.29 514.8v-1.9M318.29 384.3v1.9M325.99 514.8v-1.9M325.99 384.3v1.9M195 501.75h1.8M333.7 501.75h-1.8M195 488.7h1.8M333.7 488.7h-1.8M195 475.65h1.8M333.7 475.65h-1.8M195 462.6h1.8M333.7 462.6h-1.8M195 449.55h1.8M333.7 449.55h-1.8M195 436.5h1.8M333.7 436.5h-1.8M195 423.45h1.8M333.7 423.45h-1.8M195 410.4h1.8M333.7 410.4h-1.8M195 397.35h1.8M333.7 397.35h-1.8" stroke="#0a0a0a" stroke-width="0.9" fill="none"/>
<text transform="translate(210.4 527.7) scale(0.655 1)" text-anchor="middle" font-size="8.6" fill="#0a0a0a" stroke="#0a0a0a" stroke-width="0.25">0</text>
<text transform="translate(225.67 527.7) scale(0.655 1)" text-anchor="middle" font-size="8.6" fill="#0a0a0a" stroke="#0a0a0a" stroke-width="0.25">1</text>
<text transform="translate(240.94 527.7) scale(0.655 1)" text-anchor="middle" font-size="8.6" fill="#0a0a0a" stroke="#0a0a0a" stroke-width="0.25">2</text>
<text transform="translate(256.21 527.7) scale(0.655 1)" text-anchor="middle" font-size="8.6" fill="#0a0a0a" stroke="#0a0a0a" stroke-width="0.25">3</text>
<text transform="translate(271.48 527.7) scale(0.655 1)" text-anchor="middle" font-size="8.6" fill="#0a0a0a" stroke="#0a0a0a" stroke-width="0.25">4</text>
<text transform="translate(286.75 527.7) scale(0.655 1)" text-anchor="middle" font-size="8.6" fill="#0a0a0a" stroke="#0a0a0a" stroke-width="0.25">5</text>
<text transform="translate(302.02 527.7) scale(0.655 1)" text-anchor="middle" font-size="8.6" fill="#0a0a0a" stroke="#0a0a0a" stroke-width="0.25">6</text>
<text transform="translate(317.29 527.7) scale(0.655 1)" text-anchor="middle" font-size="8.6" fill="#0a0a0a" stroke="#0a0a0a" stroke-width="0.25">7</text>
<text transform="translate(332.56 527.7) scale(0.655 1)" text-anchor="middle" font-size="8.6" fill="#0a0a0a" stroke="#0a0a0a" stroke-width="0.25">8</text>
<text transform="translate(190.1 516.05) scale(0.655 1)" text-anchor="end" font-size="8.6" fill="#0a0a0a" stroke="#0a0a0a" stroke-width="0.25">0</text>
<text transform="translate(190.1 489.95) scale(0.655 1)" text-anchor="end" font-size="8.6" fill="#0a0a0a" stroke="#0a0a0a" stroke-width="0.25">2</text>
<text transform="translate(190.1 463.85) scale(0.655 1)" text-anchor="end" font-size="8.6" fill="#0a0a0a" stroke="#0a0a0a" stroke-width="0.25">4</text>
<text transform="translate(190.1 437.75) scale(0.655 1)" text-anchor="end" font-size="8.6" fill="#0a0a0a" stroke="#0a0a0a" stroke-width="0.25">6</text>
<text transform="translate(190.1 411.65) scale(0.655 1)" text-anchor="end" font-size="8.6" fill="#0a0a0a" stroke="#0a0a0a" stroke-width="0.25">8</text>
<text transform="translate(190.1 385.55) scale(0.655 1)" text-anchor="end" font-size="8.6" fill="#0a0a0a" stroke="#0a0a0a" stroke-width="0.25">10</text>
<text transform="translate(181.6 451.75) rotate(-90)" font-size="9.15" text-anchor="middle" fill="#0a0a0a" stroke="#0a0a0a" stroke-width="0.14">F1.2 and TAT (nM)</text>
<rect x="243" y="388.7" width="30.9" height="9.2" fill="#000"/>
<text x="258.45" y="396.9" font-size="10.2" text-anchor="middle" fill="#fff">CPB</text>
<circle cx="211.2" cy="408.6" r="2.1" fill="#000"/>
<text x="216.9" y="410.8" font-size="7.4" text-anchor="start" fill="#0a0a0a" stroke="#0a0a0a" stroke-width="0.14" >Measured Level</text>
<path d="M202.2 419.9H212.39999999999998" stroke="#000" stroke-width="1.1" stroke-dasharray="2.7 1.2"/>
<text x="216.9" y="422" font-size="7.4" text-anchor="start" fill="#0a0a0a" stroke="#0a0a0a" stroke-width="0.14" >Predicted Level, Model G</text>
<path d="M433.38 515L433.38 494.52L448.81 494.52L448.81 474.57L455.29 474.57L455.29 464.9L466.25 464.9L502.05 506.55L502.05 515Z" fill="#fff" stroke="#000" stroke-width="0.8"/>
<path d="M424.27 515L424.27 433.09L426.12 433.09L426.12 462.28L428.28 462.28L428.28 481.37L433.38 481.37L433.38 495.92L448.81 495.92L448.81 414.8L452.05 414.8L452.05 474.57L455.29 474.57L455.29 471.17L465.94 471.17L501.28 506.03L501.28 515Z" fill="#bdbdbd" stroke="#000" stroke-width="0.8"/>
<path d="M433.38 515L433.38 494.96L448.81 494.96L448.81 515Z" fill="#f4f4f4" stroke="#000" stroke-width="0.8"/>
<path d="M382.44 515L382.44 513.08L390.16 513.08L390.16 504.37L416.86 504.37L416.86 505.24L423.19 505.24L423.19 484.68L424.58 484.68L424.58 480.41L427.51 480.41L427.51 487.55L432.76 487.55L432.76 498.36L447.73 498.36L447.73 451.48L451.43 451.48L451.43 474.57L454.83 474.57L454.83 479.8L464.86 479.8L507.92 510.82L507.92 515Z" fill="#000"/>
<rect x="375.5" y="384.3" width="138.9" height="130.7" fill="none" stroke="#0a0a0a" stroke-width="1.3"/>
<path d="M390.93 515v-1.9M390.93 384.3v1.9M398.65 515v-1.9M398.65 384.3v1.9M406.37 515v-1.9M406.37 384.3v1.9M414.08 515v-1.9M414.08 384.3v1.9M421.8 515v-1.9M421.8 384.3v1.9M429.52 515v-1.9M429.52 384.3v1.9M437.23 515v-1.9M437.23 384.3v1.9M444.95 515v-1.9M444.95 384.3v1.9M452.67 515v-1.9M452.67 384.3v1.9M460.38 515v-1.9M460.38 384.3v1.9M468.1 515v-1.9M468.1 384.3v1.9M475.82 515v-1.9M475.82 384.3v1.9M483.53 515v-1.9M483.53 384.3v1.9M491.25 515v-1.9M491.25 384.3v1.9M498.97 515v-1.9M498.97 384.3v1.9M506.68 515v-1.9M506.68 384.3v1.9M375.5 506.29h1.8M514.4 506.29h-1.8M375.5 497.57h1.8M514.4 497.57h-1.8M375.5 488.86h1.8M514.4 488.86h-1.8M375.5 480.15h1.8M514.4 480.15h-1.8M375.5 471.43h1.8M514.4 471.43h-1.8M375.5 462.72h1.8M514.4 462.72h-1.8M375.5 454.01h1.8M514.4 454.01h-1.8M375.5 445.29h1.8M514.4 445.29h-1.8M375.5 436.58h1.8M514.4 436.58h-1.8M375.5 427.87h1.8M514.4 427.87h-1.8M375.5 419.15h1.8M514.4 419.15h-1.8M375.5 410.44h1.8M514.4 410.44h-1.8M375.5 401.73h1.8M514.4 401.73h-1.8M375.5 393.01h1.8M514.4 393.01h-1.8" stroke="#0a0a0a" stroke-width="0.9" fill="none"/>
<text transform="translate(390.03 527.9) scale(0.655 1)" text-anchor="middle" font-size="8.6" fill="#0a0a0a" stroke="#0a0a0a" stroke-width="0.25">0</text>
<text transform="translate(405.47 527.9) scale(0.655 1)" text-anchor="middle" font-size="8.6" fill="#0a0a0a" stroke="#0a0a0a" stroke-width="0.25">1</text>
<text transform="translate(420.9 527.9) scale(0.655 1)" text-anchor="middle" font-size="8.6" fill="#0a0a0a" stroke="#0a0a0a" stroke-width="0.25">2</text>
<text transform="translate(436.33 527.9) scale(0.655 1)" text-anchor="middle" font-size="8.6" fill="#0a0a0a" stroke="#0a0a0a" stroke-width="0.25">3</text>
<text transform="translate(451.77 527.9) scale(0.655 1)" text-anchor="middle" font-size="8.6" fill="#0a0a0a" stroke="#0a0a0a" stroke-width="0.25">4</text>
<text transform="translate(467.2 527.9) scale(0.655 1)" text-anchor="middle" font-size="8.6" fill="#0a0a0a" stroke="#0a0a0a" stroke-width="0.25">5</text>
<text transform="translate(482.63 527.9) scale(0.655 1)" text-anchor="middle" font-size="8.6" fill="#0a0a0a" stroke="#0a0a0a" stroke-width="0.25">6</text>
<text transform="translate(498.07 527.9) scale(0.655 1)" text-anchor="middle" font-size="8.6" fill="#0a0a0a" stroke="#0a0a0a" stroke-width="0.25">7</text>
<text transform="translate(513.5 527.9) scale(0.655 1)" text-anchor="middle" font-size="8.6" fill="#0a0a0a" stroke="#0a0a0a" stroke-width="0.25">8</text>
<text transform="translate(370.6 516.25) scale(0.655 1)" text-anchor="end" font-size="8.6" fill="#0a0a0a" stroke="#0a0a0a" stroke-width="0.25">0</text>
<text transform="translate(370.6 472.68) scale(0.655 1)" text-anchor="end" font-size="8.6" fill="#0a0a0a" stroke="#0a0a0a" stroke-width="0.25">5</text>
<text transform="translate(370.6 429.12) scale(0.655 1)" text-anchor="end" font-size="8.6" fill="#0a0a0a" stroke="#0a0a0a" stroke-width="0.25">10</text>
<text transform="translate(370.6 385.55) scale(0.655 1)" text-anchor="end" font-size="8.6" fill="#0a0a0a" stroke="#0a0a0a" stroke-width="0.25">15</text>
<text transform="translate(359 446.75) rotate(-90)" font-size="9.1" text-anchor="middle" fill="#0a0a0a" stroke="#0a0a0a" stroke-width="0.14">Thrombin Generation Rate (pmol/s)</text>
<rect x="425.3" y="388.2" width="31.1" height="9.1" fill="#000"/>
<text x="440.85" y="396.3" font-size="10.2" text-anchor="middle" fill="#fff">CPB</text>
<rect x="380.2" y="408.5" width="15.4" height="3.7" fill="#000" stroke="#000" stroke-width="0.8"/>
<text x="400.3" y="413.1" font-size="7.55" text-anchor="start" fill="#0a0a0a" stroke="#0a0a0a" stroke-width="0.14" >Model E</text>
<rect x="380.2" y="417.1" width="15.4" height="3.7" fill="#bdbdbd" stroke="#000" stroke-width="0.8"/>
<text x="400.3" y="421.7" font-size="7.55" text-anchor="start" fill="#0a0a0a" stroke="#0a0a0a" stroke-width="0.14" >Model F</text>
<rect x="380.2" y="425.7" width="15.4" height="3.7" fill="#fff" stroke="#000" stroke-width="0.8"/>
<text x="400.3" y="430.3" font-size="7.55" text-anchor="start" fill="#0a0a0a" stroke="#0a0a0a" stroke-width="0.14" >Model G</text>
<text x="35.5" y="540.6" font-size="9.25" text-anchor="start" fill="#0a0a0a" stroke="#0a0a0a" stroke-width="0.14" >Hours since the start of surgery</text>
<text x="208.7" y="540.6" font-size="9.0" text-anchor="start" fill="#0a0a0a" stroke="#0a0a0a" stroke-width="0.14" >Hours since the start of surgery</text>
<text x="389.8" y="540.6" font-size="9.07" text-anchor="start" fill="#0a0a0a" stroke="#0a0a0a" stroke-width="0.14" >Hours since the start of surgery</text>
</svg>
</body></html>
